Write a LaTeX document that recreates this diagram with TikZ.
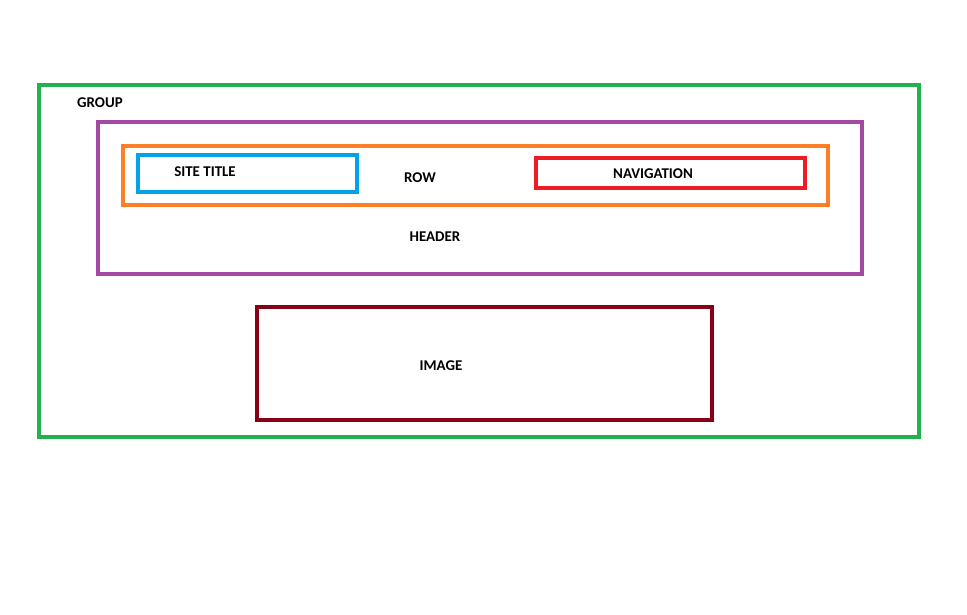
\documentclass[tikz,border=0pt]{standalone}
\usepackage{fontspec}
\setmainfont{Carlito}
\usetikzlibrary{positioning}
\definecolor{groupgreen}{RGB}{34,177,76}
\definecolor{headerpurple}{RGB}{163,73,164}
\definecolor{roworange}{RGB}{255,127,39}
\definecolor{titleblue}{RGB}{0,162,232}
\definecolor{navred}{RGB}{237,28,36}
\definecolor{imagered}{RGB}{136,0,21}
\tikzset{
    box/.style={line width=2.3pt},
    label/.style={font=\fontsize{8.5}{10}\selectfont\bfseries, inner sep=0pt}
}
\begin{document}
\begin{tikzpicture}[x=0.02cm, y=-0.02cm]
    \useasboundingbox (0,0) rectangle (967,615);
    % containers
    \draw[box, groupgreen] (39,85) rectangle (919,437);
    \draw[box, headerpurple] (98,122) rectangle (862,274);
    \draw[box, roworange] (123,146) rectangle (828,205);
    \draw[box, titleblue] (138,155) rectangle (357,192);
    \draw[box, navred] (536,158) rectangle (805,188);
    \draw[box, imagered] (257,307) rectangle (712,420);
    % labels
    \node[label] (group) at (100,103) {GROUP};
    \node[label] (sitetitle) at (205,172) {SITE TITLE};
    \node[label] (row) at (420,178) {ROW};
    \node[label] (navigation) at (653,174) {NAVIGATION};
    \node[label] (header) at (435,237) {HEADER};
    \node[label] (image) at (441,366) {IMAGE};
\end{tikzpicture}
\end{document}
